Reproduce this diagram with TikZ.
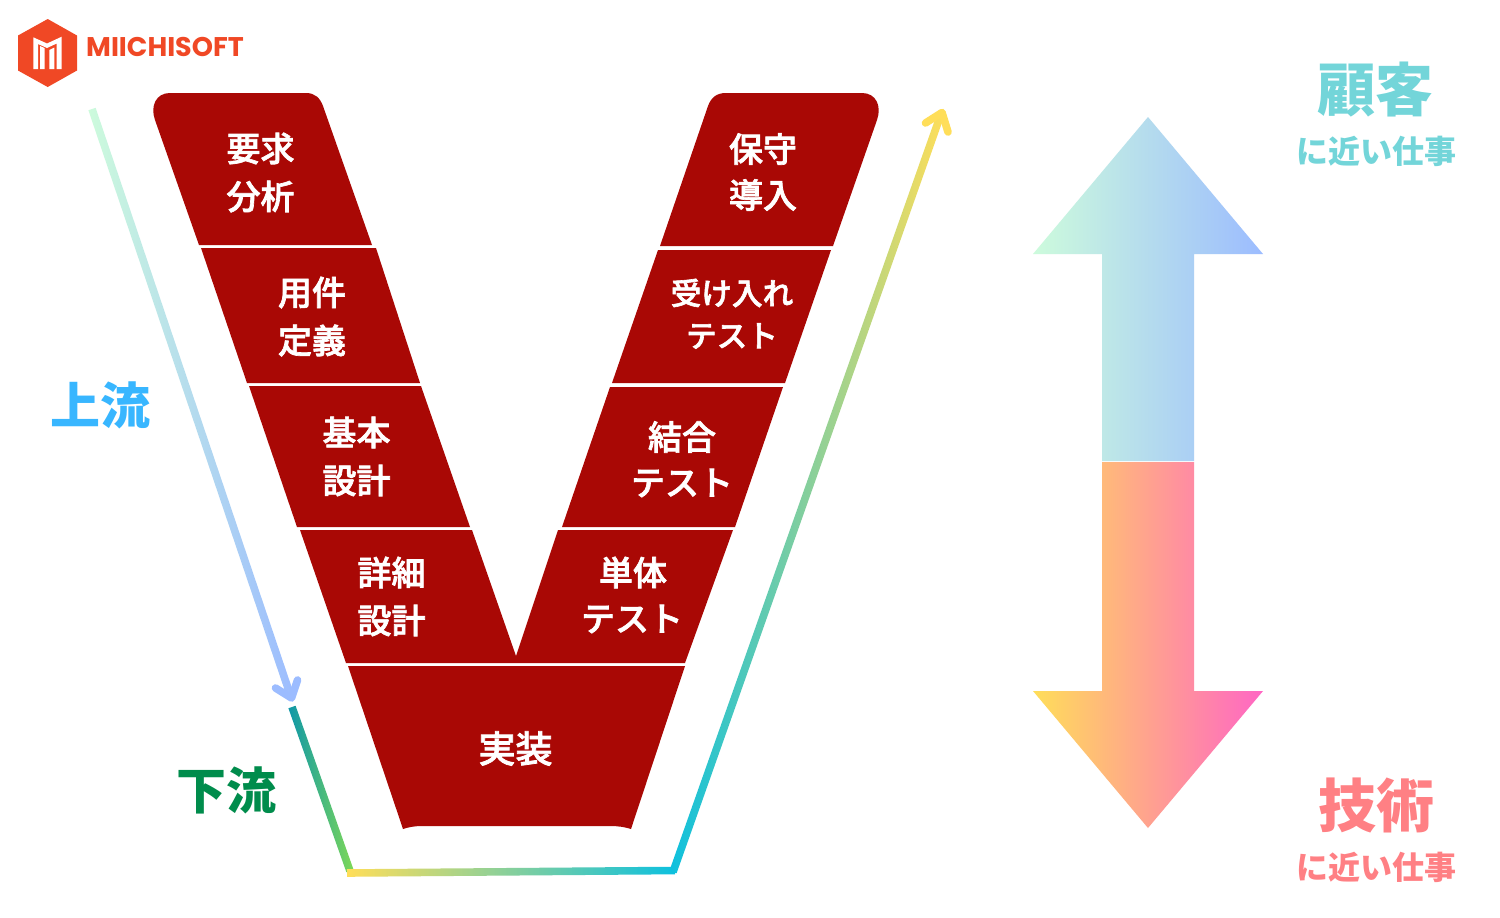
\documentclass[tikz,border=0pt]{standalone}
\usepackage{fontspec}
\usetikzlibrary{calc}
\newfontfamily\cjk[FakeBold=2]{Noto Sans CJK JP Medium}
\newfontfamily\cjkb{Noto Sans CJK JP}
\newfontfamily\logofont{Poppins}[Scale=1.0]
\definecolor{vred}{HTML}{A90805}
\definecolor{logoc}{HTML}{F04825}
\definecolor{upc}{HTML}{38B6FF}
\definecolor{downc}{HTML}{008C4C}
\definecolor{custc}{HTML}{73D5D9}
\definecolor{techc}{HTML}{FF8084}
\definecolor{mint}{HTML}{CDFBDC}
\definecolor{peri}{HTML}{9CBCFF}
\definecolor{teal}{HTML}{0F97A8}
\definecolor{lime}{HTML}{7ED957}
\definecolor{sun}{HTML}{FFDE59}
\definecolor{cyanb}{HTML}{0CC0DF}
\definecolor{pink}{HTML}{FF66C4}
\tikzset{
  x=0.5pt,y=-0.5pt,
  seg/.style={fill=vred,draw=none},
  lab/.style={text=white,font=\cjk\fontsize{17}{20}\selectfont,inner sep=0pt,align=center},
  barb/.style={line width=3.8pt,line cap=round,line join=round},
  bigtxt/.style={font=\cjkb\bfseries\fontsize{#1}{#1}\selectfont,inner sep=0pt},
}
% gradient bar from #1 to #2, colours #3 to #4
\newcommand{\gradbar}[4]{%
  \path let \p1=($(#2)-(#1)$), \n1={atan2(\y1,\x1)}, \n2={veclen(\x1,\y1)} in
    coordinate (gbmid) at ($(#1)!0.5!(#2)$)
    node[at=(gbmid),rotate=\n1,minimum width=\n2,minimum height=3.8pt,inner sep=0pt,outer sep=0pt,left color=#3,right color=#4,draw=none] {};
}
\begin{document}
\begin{tikzpicture}
\useasboundingbox (0,0) rectangle (1500,917);
\fill[white] (0,0) rectangle (1500,917);

% logo
\fill[logoc] (47.7,19)--(77,35.5)--(77,70.5)--(47.7,87)--(18,70.5)--(18,35.5)--cycle;
\fill[white] (33.3,37.3)--(47,43.5)--(61.7,36.7)--(61.7,69)--(56.7,69)--(56.7,43.5)--(47,48)--(38,44)--(38,69)--(33.3,69)--cycle;
\fill[white] (49.3,50)--(54.3,47.5)--(54.3,69)--(49.3,69)--cycle;
\fill[white] (40,46)--(44.5,48)--(44.5,69)--(40,69)--cycle;
\node[text=logoc,font=\logofont\bfseries\fontsize{13.5}{14}\selectfont,inner sep=0pt] (logo) at (165,46.5) {MIICHISOFT};

% V shape, left side
\path[seg] (199,245)--(155,120) .. controls (150,106) and (156,93) .. (170,93)--(306,93) .. controls (315,93) and (320,98) .. (323,106)--(372,245)--cycle;
\path[seg] (201,248)--(376,248)--(420,383)--(247,383)--cycle;
\path[seg] (249,386)--(421,386)--(470,527)--(297,527)--cycle;
\path[seg] (300,530)--(472,530)--(516,656)--(558,530)--(733,530)--(685,663)--(346,663)--cycle;
% V shape, right side
\path[seg] (660,246)--(708,106) .. controls (711,98) and (716,93) .. (726,93)--(862,93) .. controls (876,93) and (882,106) .. (877,120)--(833,246)--cycle;
\path[seg] (658,250)--(831,250)--(785,383)--(612,383)--cycle;
\path[seg] (610,387)--(783,387)--(735,527)--(562,527)--cycle;
% bottom
\path[seg] (348,666)--(685,666)--(631,829) .. controls (625,827) and (618,826) .. (610,826)--(422,826) .. controls (415,826) and (409,827) .. (403,829)--cycle;

% V labels
\node[lab] (a1) at (260.5,148.5) {要求};
\node[lab] (a2) at (260.5,196.5) {分析};
\node[lab] (b1) at (312,292.5) {用件};
\node[lab] (b2) at (312,340.5) {定義};
\node[lab] (c1) at (356.5,432.5) {基本};
\node[lab] (c2) at (356.5,480.5) {設計};
\node[lab] (d1) at (391.5,572.5) {詳細};
\node[lab] (d2) at (391.5,620.5) {設計};
\node[lab] (e) at (515.5,748.5) {\fontsize{18.5}{20}\selectfont 実装};
\node[lab] (f1) at (633,572.5) {単体};
\node[lab] (f2) at (632,619) {テスト};
\node[lab] (g1) at (682,437) {結合};
\node[lab] (g2) at (682,483) {テスト};
\node[lab] (h1) at (732,293) {\fontsize{15.3}{18}\selectfont 受け入れ};
\node[lab] (h2) at (732,336) {\fontsize{15.3}{18}\selectfont テスト};
\node[lab] (i1) at (763,149) {保守};
\node[lab] (i2) at (763,195) {導入};

% gradient path
\coordinate (l0) at (92,109);
\coordinate (l1) at (291,697);
\coordinate (t1) at (292,707);
\coordinate (t2) at (350,871);
\coordinate (u1) at (347,873);
\coordinate (u2) at (675,870.5);
\coordinate (r1) at (673,872);
\coordinate (r2) at (941,114);
\gradbar{l0}{l1}{mint}{peri}
\gradbar{t1}{t2}{teal}{lime}
\gradbar{u1}{u2}{sun}{cyanb}
\gradbar{r1}{r2}{cyanb}{sun}
\draw[barb,peri] (275.5,688)--(291.5,698)--(297.5,680);
\draw[barb,sun] (925.5,123)--(942,112.5)--(948,132);

% side labels
\node[bigtxt=25,text=upc] (up) at (100.5,405) {上流};
\node[bigtxt=25,text=downc] (down) at (226,790.5) {下流};
\node[bigtxt=29,text=custc] (cust) at (1375.5,90) {顧客};
\node[bigtxt=16,text=custc] (cust2) at (1376,151) {に近い仕事};
\node[bigtxt=29,text=techc] (tech) at (1376,805) {技術};
\node[bigtxt=16,text=techc] (tech2) at (1376,867) {に近い仕事};

% big arrows
\shade[left color=mint,right color=peri] (1148,117)--(1263,254)--(1194,254)--(1194,461)--(1102,461)--(1102,254)--(1033,254)--cycle;
\shade[left color=sun,right color=pink] (1102,462)--(1194,462)--(1194,691)--(1263,691)--(1148,828)--(1033,691)--(1102,691)--cycle;
\end{tikzpicture}
\end{document}
